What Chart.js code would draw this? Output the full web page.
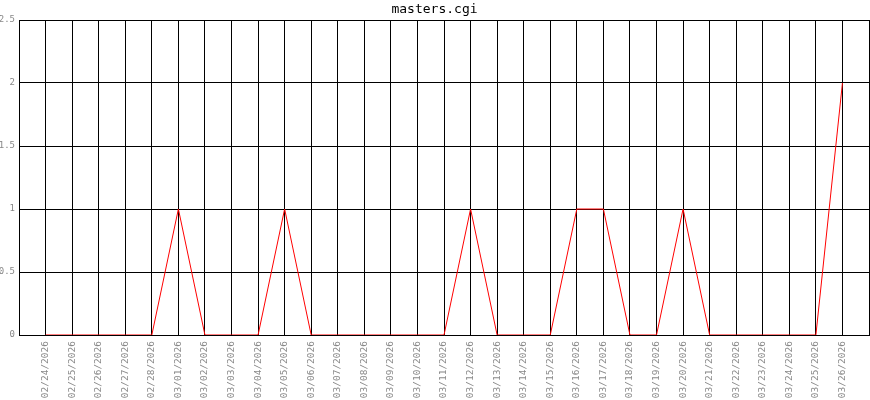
<!DOCTYPE html>
<html lang="en">
<head>
    <meta charset="UTF-8">
    <title>masters.cgi</title>
    <script src="https://cdn.jsdelivr.net/npm/chart.js"></script>
    <style>
        html, body { margin: 0; padding: 0; background: #fff; }
        #wrap { width: 870px; height: 400px; }
    </style>
</head>
<body>
    <div id="wrap"><canvas id="chart"></canvas></div>
    <script>
        // dates on the x axis
        const dates = [
            "02/24/2026", "02/25/2026", "02/26/2026", "02/27/2026", "02/28/2026",
            "03/01/2026", "03/02/2026", "03/03/2026", "03/04/2026", "03/05/2026",
            "03/06/2026", "03/07/2026", "03/08/2026", "03/09/2026", "03/10/2026",
            "03/11/2026", "03/12/2026", "03/13/2026", "03/14/2026", "03/15/2026",
            "03/16/2026", "03/17/2026", "03/18/2026", "03/19/2026", "03/20/2026",
            "03/21/2026", "03/22/2026", "03/23/2026", "03/24/2026", "03/25/2026",
            "03/26/2026"
        ];
        // counts per day
        const counts = [
            0, 0, 0, 0, 0,
            1, 0, 0, 0, 1,
            0, 0, 0, 0, 0,
            0, 1, 0, 0, 0,
            1, 1, 0, 0, 1,
            0, 0, 0, 0, 0,
            2
        ];
        const yTicks = [0, 0.5, 1, 1.5, 2, 2.5];

        const points = counts.map((v, i) => ({ x: i, y: v }));
        const mono = "'DejaVu Sans Mono', monospace";

        new Chart(document.getElementById("chart"), {
            type: "line",
            data: {
                datasets: [{
                    data: points,
                    borderColor: "#ff0000",
                    borderWidth: 1,
                    pointRadius: 0,
                    tension: 0,
                    fill: false
                }]
            },
            options: {
                responsive: true,
                maintainAspectRatio: false,
                animation: false,
                layout: { padding: { left: 0, right: 1, top: 0, bottom: 0 } },
                plugins: {
                    legend: { display: false },
                    tooltip: { enabled: false },
                    title: {
                        display: true,
                        text: "masters.cgi",
                        color: "#000",
                        font: { family: mono, size: 13, weight: "normal", lineHeight: "14px" },
                        padding: { top: 3, bottom: 3 }
                    }
                },
                scales: {
                    x: {
                        type: "linear",
                        min: -1,
                        max: dates.length,
                        afterBuildTicks: axis => {
                            axis.ticks = [];
                            for (let i = -1; i <= dates.length; i++) axis.ticks.push({ value: i });
                        },
                        afterFit: axis => {
                            axis.height = 65;
                            axis.paddingLeft = 0;
                            axis.paddingRight = 0;
                        },
                        grid: { color: "#000", drawTicks: false, lineWidth: 1 },
                        border: { color: "#000" },
                        ticks: {
                            autoSkip: false,
                            maxRotation: 90,
                            minRotation: 90,
                            padding: 6,
                            color: "#888",
                            font: { family: mono, size: 9.5 },
                            callback: v => dates[v] || ""
                        }
                    },
                    y: {
                        min: 0,
                        max: 2.5,
                        afterBuildTicks: axis => {
                            axis.ticks = yTicks.map(v => ({ value: v }));
                        },
                        afterFit: axis => {
                            axis.width = 19;
                            axis.paddingTop = 0;
                            axis.paddingBottom = 0;
                        },
                        grid: { color: "#000", drawTicks: false, lineWidth: 1 },
                        border: { color: "#000" },
                        ticks: {
                            padding: 4,
                            color: "#888",
                            font: { family: mono, size: 9 },
                            callback: v => String(v)
                        }
                    }
                }
            }
        });
    </script>
</body>
</html>
